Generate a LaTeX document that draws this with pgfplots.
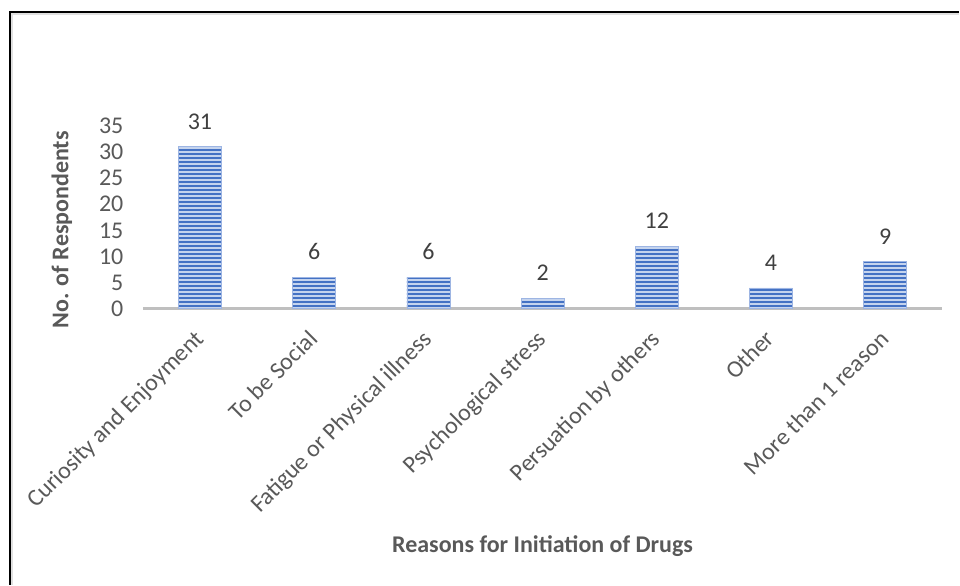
\documentclass[border=0pt]{standalone}
\usepackage{pgfplots}
\pgfplotsset{compat=1.18}
\usepackage{fontspec}
\setmainfont{Carlito}
\usetikzlibrary{patterns.meta}
\definecolor{barlight}{HTML}{C5D4EE}
\definecolor{bardark}{HTML}{4472C4}
\definecolor{baredge}{HTML}{9DB5E3}
\definecolor{txt}{HTML}{595959}
\definecolor{lbl}{HTML}{404040}
\definecolor{axl}{HTML}{BFBFBF}
\begin{document}
\begin{tikzpicture}
\path (0,0) rectangle (960pt,585pt);
\draw[black, line width=1.3pt] (10pt,0pt) -- (10pt,573pt) -- (960pt,573pt);
\draw[black!12, line width=1.5pt] (12pt,0pt) -- (12pt,571pt) -- (960pt,571pt);
\begin{axis}[
  at={(143pt,276pt)}, anchor=south west,
  scale only axis, width=800pt, height=183pt,
  xmin=-0.5, xmax=6.5, ymin=0, ymax=35,
  ytick={0,5,...,35},
  xtick={0,...,6},
  xticklabels={Curiosity and Enjoyment, To be Social, Fatigue or Physical illness, Psychological stress, Persuation by others, Other, More than 1 reason},
  axis lines*=left,
  y axis line style={draw=none},
  x axis line style={draw=axl, line width=3pt},
  major tick length=0pt,
  xtick style={draw=none}, ytick style={draw=none},
  /pgf/number format/assume math mode=true,
  ticklabel style={font=\fontsize{24}{28}\selectfont, text=txt},
  yticklabel style={xshift=-16pt},
  xticklabel style={xshift=-7pt, yshift=-15pt, rotate=45, anchor=north east},
  ybar, bar width=43pt,
  nodes near coords,
  nodes near coords style={font=\fontsize{24}{28}\selectfont, text=lbl, yshift=14pt},
  clip=false,
]
\addplot[draw=baredge, line width=0.6pt, fill=barlight, postaction={pattern={Lines[angle=0,distance=4pt,line width=1.7pt]}, pattern color=bardark}]
  coordinates {(0,31) (1,6) (2,6) (3,2) (4,12) (5,4) (6,9)};
\end{axis}
\node[font=\bfseries\fontsize{24}{28}\selectfont, text=txt] at (543pt,38pt) {Reasons for Initiation of Drugs};
\node[font=\bfseries\fontsize{24}{28}\selectfont, text=txt, rotate=90] at (62pt,355pt) {No. of Respondents};
\end{tikzpicture}
\end{document}
